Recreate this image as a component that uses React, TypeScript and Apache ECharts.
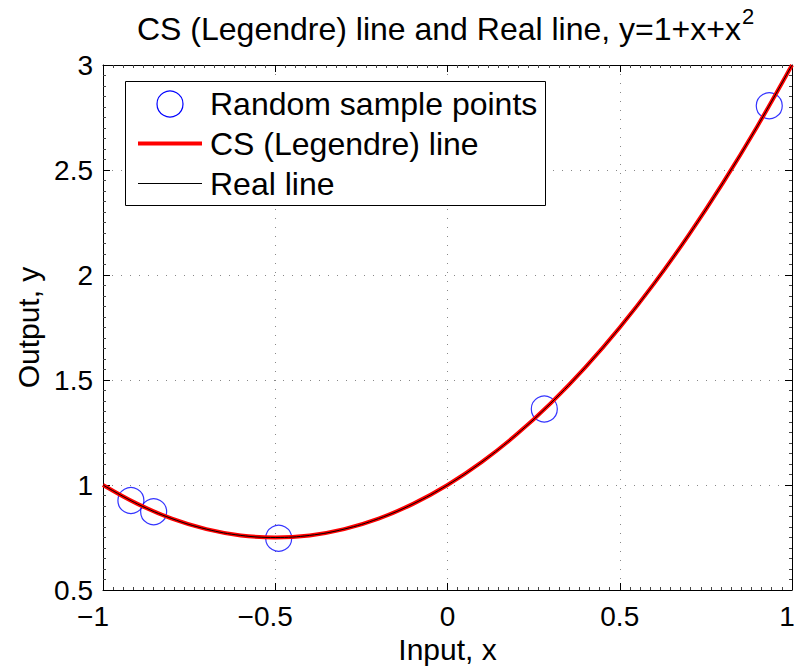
import React, { useEffect, useRef } from "react";
import * as echarts from "echarts";

const FONT = '"Liberation Sans", Arial, Helvetica, sans-serif';

const titleMain = "CS (Legendre) line and Real line, y=1+x+x";
const titleSup = "2";
const xAxisName = "Input, x";
const yAxisName = "Output, y";
const seriesNames = ["Random sample points", "CS (Legendre) line", "Real line"];

// random sample points
const sampleX = [-0.919, -0.853, -0.49, 0.281, 0.934];
const sampleY = [0.926, 0.873, 0.746, 1.362, 2.806];

// curve points
const curveX = [-1, -0.9, -0.8, -0.7, -0.6, -0.5, -0.4, -0.3, -0.2, -0.1, 0, 0.1, 0.2, 0.3, 0.4, 0.5, 0.6, 0.7, 0.8, 0.9, 1];
const csY = [1.0, 0.91, 0.84, 0.79, 0.76, 0.75, 0.76, 0.79, 0.84, 0.91, 1.0, 1.11, 1.24, 1.39, 1.56, 1.75, 1.96, 2.19, 2.44, 2.71, 3.0];
const realY = [1.0, 0.91, 0.84, 0.79, 0.76, 0.75, 0.76, 0.79, 0.84, 0.91, 1.0, 1.11, 1.24, 1.39, 1.56, 1.75, 1.96, 2.19, 2.44, 2.71, 3.0];

const xMin = -1, xMax = 1, xStep = 0.5;
const yMin = 0.5, yMax = 3, yStep = 0.5;

export default function App() {
  const ref = useRef<HTMLDivElement>(null);
  useEffect(() => {
    if (!ref.current) return;
    const chart = echarts.init(ref.current, null, { renderer: "svg" });
    const gridDots = { color: "#888", width: 1, type: [1, 8] as any };
    const tickCommon = {
      axisLine: { show: true, onZero: false, lineStyle: { color: "#000", width: 1 } },
      axisTick: { show: true, inside: true, length: 7, lineStyle: { color: "#000", width: 1 } },
    };
    const xBase = { type: "value" as const, min: xMin, max: xMax, interval: xStep };
    const yBase = { type: "value" as const, min: yMin, max: yMax, interval: yStep };
    const xMinor = { show: true, splitNumber: 17, length: 3, lineStyle: { color: "#444", width: 1 } };
    const yMinor = { show: true, splitNumber: 10, length: 3, lineStyle: { color: "#444", width: 1 } };
    const legendText = (y: number, t: string) => ({
      type: "text",
      x: 210,
      y,
      z: 102,
      style: { text: t, fontFamily: FONT, fontSize: 32, fill: "#000", textVerticalAlign: "middle", textAlign: "left" },
    });
    const xLabel = (v: number) => {
      if (v < 0) return `\u2212${Math.abs(v)}{p| }`;
      if (v >= xMax) return `${v}{q| }`;
      return `${v}`;
    };
    chart.setOption({
      animation: false,
      backgroundColor: "#fff",
      textStyle: { fontFamily: FONT },
      title: {
        left: 137,
        top: 5,
        padding: 0,
        text: `${titleMain}{sup|${titleSup}}`,
        textStyle: {
          fontFamily: FONT,
          fontSize: 32,
          fontWeight: "normal",
          color: "#000",
          rich: {
            sup: { fontSize: 22, fontFamily: FONT, color: "#000", padding: [0, 0, 26, 1] },
          },
        },
      },
      grid: { left: 103, right: 2, top: 65, bottom: 79, containLabel: false, outerBoundsMode: "none" },
      graphic: [
        {
          type: "rect",
          z: 100,
          shape: { x: 125.5, y: 81.5, width: 420, height: 124 },
          style: { fill: "#fff", stroke: "#000", lineWidth: 1 },
        },
        {
          type: "circle",
          z: 101,
          shape: { cx: 170, cy: 104, r: 13 },
          style: { fill: "none", stroke: "#0000ff", lineWidth: 1.2 },
        },
        {
          type: "line",
          z: 101,
          shape: { x1: 138, y1: 143.5, x2: 202, y2: 143.5 },
          style: { stroke: "#ff0000", lineWidth: 4 },
        },
        {
          type: "line",
          z: 101,
          shape: { x1: 138, y1: 183.5, x2: 202, y2: 183.5 },
          style: { stroke: "#000", lineWidth: 1 },
        },
        legendText(104, seriesNames[0]),
        legendText(143.5, seriesNames[1]),
        legendText(183.5, seriesNames[2]),
      ],
      xAxis: [
        {
          ...xBase,
          ...tickCommon,
          position: "bottom",
          name: xAxisName,
          nameLocation: "middle",
          nameGap: 40,
          nameTextStyle: { fontFamily: FONT, fontSize: 30, color: "#000" },
          axisLabel: {
            fontFamily: FONT,
            fontSize: 28,
            color: "#000",
            margin: 12,
            formatter: xLabel,
            rich: { p: { width: 20, fontSize: 28 }, q: { width: 10, fontSize: 28 } },
          },
          minorTick: xMinor,
          splitLine: { show: true, lineStyle: gridDots },
        },
        {
          ...xBase,
          ...tickCommon,
          position: "top",
          axisLabel: { show: false },
          minorTick: xMinor,
          splitLine: { show: false },
        },
      ],
      yAxis: [
        {
          ...yBase,
          ...tickCommon,
          position: "left",
          name: yAxisName,
          nameLocation: "middle",
          nameGap: 60,
          nameTextStyle: { fontFamily: FONT, fontSize: 30, color: "#000" },
          axisLabel: { fontFamily: FONT, fontSize: 28, color: "#000", margin: 10 },
          minorTick: yMinor,
          splitLine: { show: true, lineStyle: gridDots },
        },
        {
          ...yBase,
          ...tickCommon,
          position: "right",
          axisLabel: { show: false },
          minorTick: yMinor,
          splitLine: { show: false },
        },
      ],
      series: [
        {
          name: seriesNames[0],
          type: "scatter",
          xAxisIndex: 0,
          yAxisIndex: 0,
          symbol: "circle",
          symbolSize: 26,
          itemStyle: { color: "transparent", borderColor: "#0000ff", borderWidth: 1.2 },
          z: 2,
          data: sampleX.map((x, i) => [x, sampleY[i]]),
        },
        {
          name: seriesNames[1],
          type: "line",
          xAxisIndex: 0,
          yAxisIndex: 0,
          smooth: 0.4,
          symbol: "none",
          showSymbol: false,
          lineStyle: { color: "#ff0000", width: 4 },
          itemStyle: { color: "#ff0000" },
          z: 3,
          data: curveX.map((x, i) => [x, csY[i]]),
        },
        {
          name: seriesNames[2],
          type: "line",
          xAxisIndex: 0,
          yAxisIndex: 0,
          smooth: 0.4,
          symbol: "none",
          showSymbol: false,
          lineStyle: { color: "#000000", width: 1 },
          itemStyle: { color: "#000000" },
          z: 4,
          data: curveX.map((x, i) => [x, realY[i]]),
        },
      ],
    });
    return () => chart.dispose();
  }, []);
  return (
    <div
      ref={ref}
      style={{ position: "fixed", left: 0, top: 0, width: 794, height: 669, background: "#fff" }}
    />
  );
}
